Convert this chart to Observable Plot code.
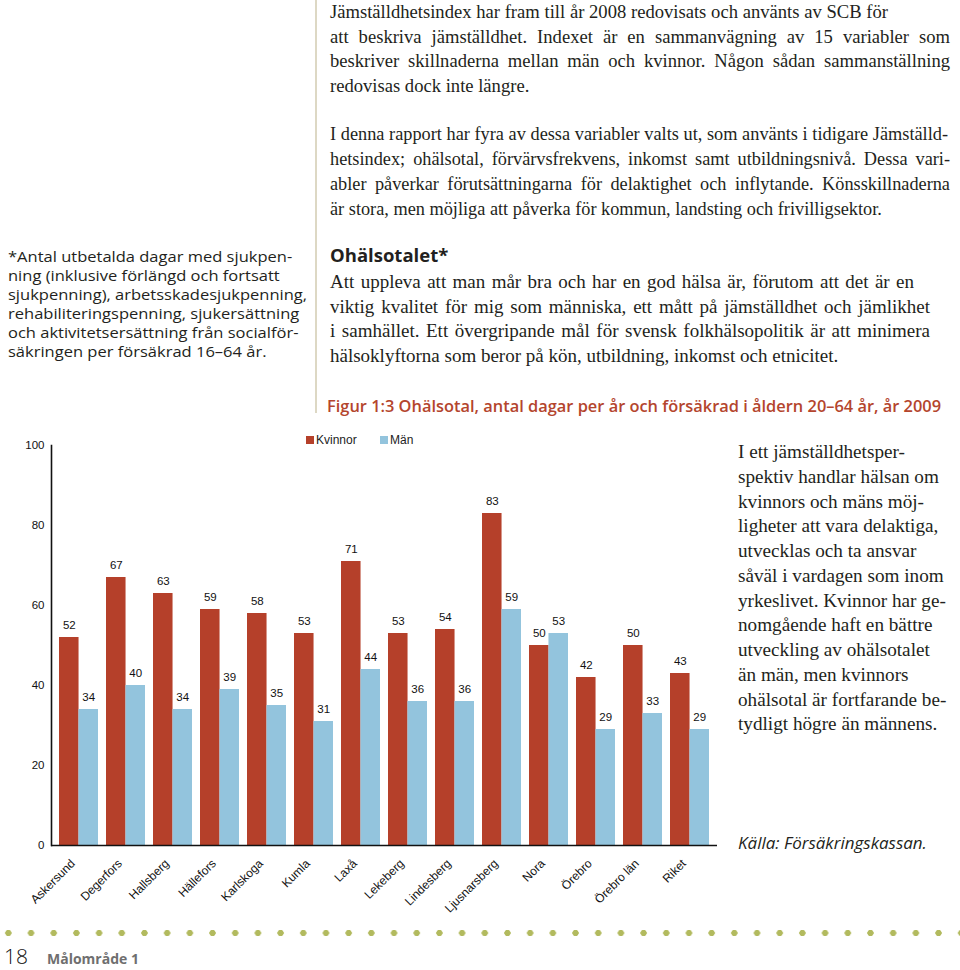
<!DOCTYPE html>
<html>
<head>
<meta charset="utf-8">
<script src="https://cdn.jsdelivr.net/npm/d3@7"></script>
<script src="https://cdn.jsdelivr.net/npm/@observablehq/plot@0.6"></script>
<style>
  html, body { margin: 0; padding: 0; background: #fff; }
  #page { position: relative; width: 960px; height: 970px; overflow: hidden; background: #fff; }
  .abs { position: absolute; white-space: nowrap; }
  .serif { font-family: "Liberation Serif", "Times New Roman", serif; color: #231f20; }
  .sans { font-family: "Open Sans", "Noto Sans", sans-serif; color: #231f20; }
  .j { white-space: nowrap; text-align: justify; text-align-last: justify; }
  .vline { position: absolute; left: 315px; top: 0; width: 2px; height: 413px; background: #ddd8c4; }
  .dots { position: absolute; left: -3px; top: 927px; width: 966px; height: 12px;
          background-image: radial-gradient(circle, #b2ba5e 2.9px, rgba(255,255,255,0) 3.4px);
          background-size: 22.7px 12px; background-repeat: repeat-x; }
  .legend { position: absolute; top: 433px; font-family: "Liberation Sans", Arial, sans-serif; font-size: 12px; color: #222; }
  .legend span.sw { display: inline-block; width: 8px; height: 8px; margin-right: 2px; vertical-align: 0px; }
</style>
</head>
<body>
<div id="page">
  <div class="vline"></div>

  <div class="abs serif" style="left:330px; top:0px; font-size:18.6px; line-height:24.6px;">
    <div class="j" style="width:558px">Jämställdhetsindex har fram till år 2008 redovisats och använts av SCB för</div>
    <div class="j" style="width:620px">att beskriva jämställdhet. Indexet är en sammanvägning av 15 variabler som</div>
    <div class="j" style="width:620px">beskriver skillnaderna mellan män och kvinnor. Någon sådan sammanställning</div>
    <div>redovisas dock inte längre.</div>
  </div>

  <div class="abs serif" style="left:330px; top:122px; font-size:18.3px; line-height:24.9px;">
    <div class="j" style="width:618px">I denna rapport har fyra av dessa variabler valts ut, som använts i tidigare Jämställd-</div>
    <div class="j" style="width:620px">hetsindex; ohälsotal, förvärvsfrekvens, inkomst samt utbildningsnivå. Dessa vari-</div>
    <div class="j" style="width:620px">abler påverkar förutsättningarna för delaktighet och inflytande. Könsskillnaderna</div>
    <div>är stora, men möjliga att påverka för kommun, landsting och frivilligsektor.</div>
  </div>

  <div class="abs sans" style="left:8px; top:247px; font-size:15px; line-height:18.9px; transform:scaleX(1.1); transform-origin:0 0;">
    *Antal utbetalda dagar med sjukpen-<br>
    ning (inklusive förlängd och fortsatt<br>
    sjukpenning), arbetsskadesjukpenning,<br>
    rehabiliteringspenning, sjukersättning<br>
    och aktivitetsersättning från socialför-<br>
    säkringen per försäkrad 16–64 år.
  </div>

  <div class="abs sans" style="left:330px; top:242px; font-size:18.5px; font-weight:700; line-height:26px;">Ohälsotalet*</div>

  <div class="abs serif" style="left:330px; top:270px; font-size:19px; line-height:24.6px;">
    <div class="j" style="width:584px">Att uppleva att man mår bra och har en god hälsa är, förutom att det är en</div>
    <div class="j" style="width:600px">viktig kvalitet för mig som människa, ett mått på jämställdhet och jämlikhet</div>
    <div class="j" style="width:600px">i samhället. Ett övergripande mål för svensk folkhälsopolitik är att minimera</div>
    <div>hälsoklyftorna som beror på kön, utbildning, inkomst och etnicitet.</div>
  </div>

  <div class="abs sans" style="left:327px; top:394px; font-size:16.4px; font-weight:600; color:#b4452d; line-height:24px;">
    Figur 1:3 Ohälsotal, antal dagar per år och försäkrad i åldern 20–64 år, år 2009
  </div>

  <div class="legend" style="left:306px;"><span class="sw" style="background:#b5402a"></span>Kvinnor</div>
  <div class="legend" style="left:380px;"><span class="sw" style="background:#93c4dd"></span>Män</div>

  <div id="chart" style="position:absolute; left:0; top:425px;"></div>

  <div class="abs serif" style="left:738px; top:440px; font-size:19.2px; line-height:24.75px;">
    I ett jämställdhetsper-<br>
    spektiv handlar hälsan om<br>
    kvinnors och mäns möj-<br>
    ligheter att vara delaktiga,<br>
    utvecklas och ta ansvar<br>
    såväl i vardagen som inom<br>
    yrkeslivet. Kvinnor har ge-<br>
    nomgående haft en bättre<br>
    utveckling av ohälsotalet<br>
    än män, men kvinnors<br>
    ohälsotal är fortfarande be-<br>
    tydligt högre än männens.
  </div>

  <div class="abs sans" style="left:738px; top:831px; font-size:17px; font-style:italic; line-height:24px;">Källa: Försäkringskassan.</div>

  <div class="dots"></div>
  <div class="abs sans" style="left:4px; top:944px; font-size:21px; font-weight:300; line-height:24px; color:#111;">18</div>
  <div class="abs sans" style="left:47px; top:949px; font-size:14px; font-weight:700; line-height:20px; color:#6f6f6f;">Målområde 1</div>
</div>

<script>
const categories = ["Askersund","Degerfors","Hallsberg","Hällefors","Karlskoga","Kumla","Laxå","Lekeberg","Lindesberg","Ljusnarsberg","Nora","Örebro","Örebro län","Riket"];
const kvinnor = [52, 67, 63, 59, 58, 53, 71, 53, 54, 83, 50, 42, 50, 43];
const man = [34, 40, 34, 39, 35, 31, 44, 36, 36, 59, 53, 29, 33, 29];
const yTicks = [0, 20, 40, 60, 80, 100];
const seriesNames = ["Kvinnor", "Män"];
const colors = ["#b5402a", "#93c4dd"];

const data = categories.map((c, i) => ({category: c, kvinnor: kvinnor[i], man: man[i]}));

const W = 730, H = 485, mL = 51, mR = 13, mT = 20, mB = 65;
const padInner = 0.18, padOuter = 0.105;
const step = (W - mL - mR) / (categories.length - padInner + 2 * padOuter);
const half = step * (1 - padInner) / 2;

const font = "'Liberation Sans', Arial, sans-serif";

const chart = Plot.plot({
  width: W, height: H,
  marginLeft: mL, marginRight: mR, marginTop: mT, marginBottom: mB,
  style: {fontFamily: font, fontSize: "12px", color: "#111", background: "transparent", overflow: "visible"},
  x: {domain: categories, paddingInner: padInner, paddingOuter: padOuter, label: null},
  y: {domain: [0, 100], label: null},
  marks: [
    Plot.barY(data, {x: "category", y: "kvinnor", fill: colors[0], insetRight: half}),
    Plot.barY(data, {x: "category", y: "man", fill: colors[1], insetLeft: half}),
    Plot.text(data, {x: "category", y: "kvinnor", text: d => String(d.kvinnor), dx: -half / 2, dy: -9, lineAnchor: "bottom", fontSize: 11.5, fill: "#111"}),
    Plot.text(data, {x: "category", y: "man", text: d => String(d.man), dx: half / 2, dy: -9, lineAnchor: "bottom", fontSize: 11.5, fill: "#111"}),
    Plot.axisY({ticks: yTicks, tickSize: 0, tickPadding: 7, fontSize: 11.5, label: null}),
    Plot.axisX({tickSize: 0, tickPadding: 16, dx: -6, tickRotate: -45, fontSize: 12, label: null}),
    Plot.frame({anchor: "left", stroke: "#111", strokeWidth: 1.6}),
    Plot.ruleY([0], {stroke: "#111", strokeWidth: 1.6})
  ]
});
document.getElementById("chart").appendChild(chart);
</script>
</body>
</html>
